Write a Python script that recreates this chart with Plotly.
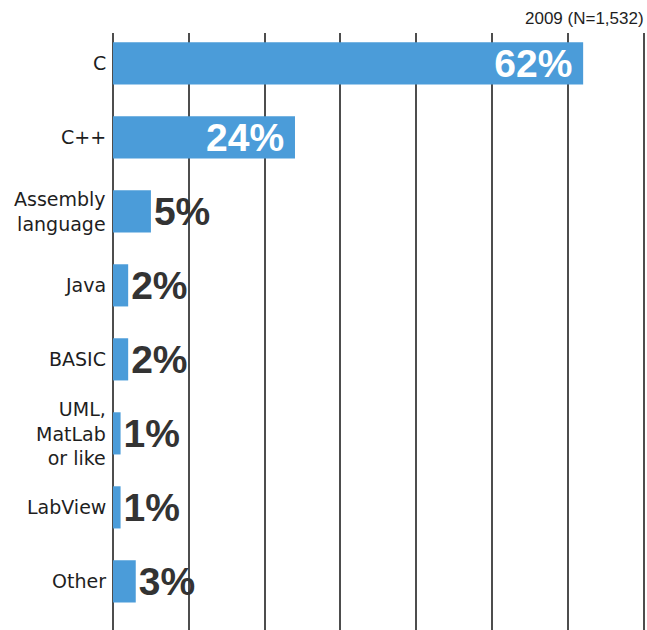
import plotly.graph_objects as go

categories = ["C", "C++", "Assembly<br>language", "Java", "BASIC", "UML,<br>MatLab<br>or like", "LabView", "Other"]
values = [62, 24, 5, 2, 2, 1, 1, 3]
text_positions = ["inside", "inside", "outside", "outside", "outside", "outside", "outside", "outside"]
subtitle = "2009 (N=1,532)"

BAR_COLOR = "#4b9cd9"
GRID_COLOR = "#4d4d4d"
LABEL_FONT = "Liberation Sans Narrow, Arial Narrow, Liberation Sans, Arial, sans-serif"

labels = [f"{v}%\u2009" if p == "inside" else f"{v}%" for v, p in zip(values, text_positions)]

fig = go.Figure(go.Bar(
    x=values,
    y=categories,
    orientation="h",
    marker=dict(color=BAR_COLOR, line=dict(width=0)),
    width=0.57,
    text=labels,
    textposition=text_positions,
    insidetextanchor="end",
    constraintext="none",
    cliponaxis=False,
    insidetextfont=dict(family=LABEL_FONT, size=39, color="white", weight="bold"),
    outsidetextfont=dict(family=LABEL_FONT, size=39, color="#333333", weight="bold"),
    hoverinfo="skip",
))

annotations = []
for cat in categories:
    annotations.append(dict(
        x=0, y=cat, xref="x", yref="y",
        text=cat, showarrow=False,
        xanchor="right", yanchor="middle", align="right",
        xshift=-5,
        font=dict(family="DejaVu Sans, sans-serif", size=19, color="#1e1e1e"),
    ))

annotations.append(dict(
    x=1, y=1, xref="paper", yref="paper",
    text=subtitle, showarrow=False,
    xanchor="right", yanchor="middle",
    xshift=-1, yshift=15,
    font=dict(family="Liberation Sans, Arial, sans-serif", size=17, color="#1e1e1e"),
))

fig.update_layout(
    width=647, height=630,
    margin=dict(l=113, r=0, t=33, b=0),
    paper_bgcolor="white",
    plot_bgcolor="white",
    showlegend=False,
    annotations=annotations,
    xaxis=dict(
        range=[0, 70.42],
        dtick=10, tick0=0,
        showgrid=True, gridcolor=GRID_COLOR, gridwidth=1.5,
        zeroline=True, zerolinecolor=GRID_COLOR, zerolinewidth=1.5,
        showticklabels=False, ticks="",
        showline=False,
        fixedrange=True,
    ),
    yaxis=dict(
        type="category",
        categoryorder="array", categoryarray=categories,
        range=[7.657, -0.41],
        showticklabels=False, ticks="",
        showgrid=False, zeroline=False, showline=False,
        fixedrange=True,
    ),
)

fig.write_html("out.html")
